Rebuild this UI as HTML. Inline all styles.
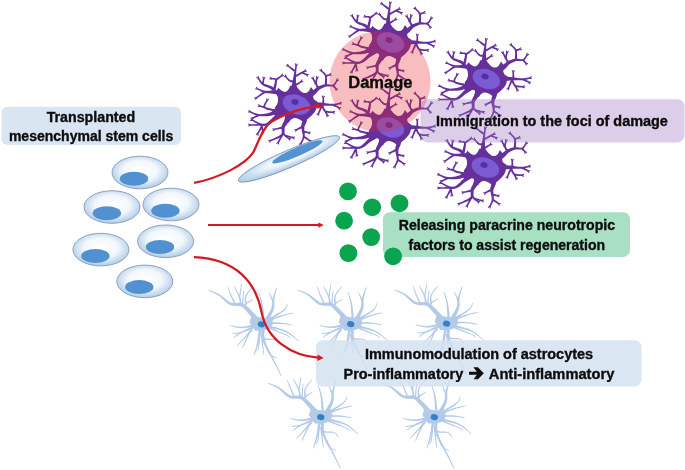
<!DOCTYPE html>
<html><head><meta charset="utf-8"><style>html,body{margin:0;padding:0;background:#fff;width:685px;height:470px;overflow:hidden}svg{display:block}</style></head>
<body><svg width="685" height="470" viewBox="0 0 685 470">
<defs>
<radialGradient id="cg" cx="0.5" cy="0.45" r="0.55"><stop offset="0" stop-color="#ffffff"/><stop offset="0.55" stop-color="#f3f8fc"/><stop offset="1" stop-color="#afcbe7"/></radialGradient>
<radialGradient id="eg" cx="0.55" cy="0.4" r="0.6"><stop offset="0" stop-color="#ffffff"/><stop offset="0.45" stop-color="#eef5fb"/><stop offset="1" stop-color="#a9c8e6"/></radialGradient>
<g id="astro"><g fill="#b3cae8"><path d="M-12,-2 L-9.6,-9 Q-4,-7.2 4.3,-6 L9.6,-8 Q11.5,-4 11.5,-1 Q10.5,2.5 8,4.5 Q4,6.5 0.9,6.5 L-6,6.5 Q-8.5,4 -9,2 Q-11,0 -12,-2Z"/><path d="M-2.14,-5.67 L-3.51,-7.09 L-5.47,-9.14 L-7.78,-11.53 L-10.16,-13.98 L-12.38,-16.19 L-14.18,-17.86 L-15.44,-18.96 L-16.40,-19.75 L-17.29,-20.34 L-18.23,-20.77 L-19.20,-21.05 L-20.48,-21.35 L-22.15,-21.53 L-23.95,-21.48 L-25.77,-21.37 L-27.57,-21.32 L-29.28,-21.46 L-30.87,-21.89 L-32.49,-22.74 L-34.23,-23.99 L-36.04,-25.50 L-37.89,-27.09 L-39.76,-28.61 L-41.66,-29.89 L-43.65,-30.93 L-45.76,-31.85 L-47.84,-32.67 L-49.77,-33.37 L-51.38,-33.94 L-52.54,-34.37 L-52.86,-33.63 L-51.72,-33.10 L-50.14,-32.42 L-48.29,-31.60 L-46.31,-30.65 L-44.34,-29.61 L-42.54,-28.51 L-40.88,-27.21 L-39.19,-25.64 L-37.46,-23.93 L-35.70,-22.23 L-33.87,-20.71 L-31.93,-19.51 L-29.85,-18.79 L-27.76,-18.46 L-25.75,-18.37 L-23.92,-18.35 L-22.37,-18.29 L-21.12,-18.05 L-20.16,-17.75 L-19.51,-17.51 L-19.12,-17.30 L-18.66,-16.93 L-17.92,-16.23 L-16.82,-15.14 L-15.24,-13.43 L-13.24,-11.14 L-11.06,-8.57 L-8.95,-6.03 L-7.13,-3.85 L-5.86,-2.33Z"/><path d="M-19.90,-19.78 L-19.99,-20.53 L-20.08,-21.56 L-20.21,-22.82 L-20.41,-24.24 L-20.75,-25.77 L-21.25,-27.33 L-22.02,-29.07 L-23.03,-31.05 L-24.16,-33.10 L-25.27,-35.05 L-26.22,-36.70 L-26.88,-37.87 L-27.52,-37.53 L-26.93,-36.32 L-26.07,-34.62 L-25.07,-32.62 L-24.07,-30.53 L-23.19,-28.54 L-22.55,-26.87 L-22.17,-25.42 L-21.95,-24.00 L-21.83,-22.66 L-21.78,-21.44 L-21.75,-20.40 L-21.70,-19.62Z"/><path d="M-21.19,-26.98 L-20.88,-29.21 L-20.57,-31.44 L-20.27,-33.66 L-19.96,-35.89 L-19.65,-38.11 L-19.34,-40.34 L-20.06,-40.46 L-20.48,-38.25 L-20.91,-36.05 L-21.33,-33.84 L-21.76,-31.63 L-22.18,-29.42 L-22.61,-27.22Z"/><path d="M-18.28,-19.93 L-18.11,-22.18 L-17.94,-24.44 L-17.76,-26.69 L-17.59,-28.95 L-17.42,-31.21 L-17.24,-33.46 L-17.96,-33.54 L-18.25,-31.29 L-18.54,-29.05 L-18.84,-26.81 L-19.13,-24.56 L-19.42,-22.32 L-19.72,-20.07Z"/><path d="M-14.60,-19.07 L-14.71,-20.09 L-14.91,-21.48 L-15.11,-23.09 L-15.23,-24.80 L-15.18,-26.48 L-14.88,-27.98 L-14.20,-29.52 L-13.15,-31.23 L-11.91,-32.97 L-10.66,-34.59 L-9.57,-35.97 L-8.82,-36.98 L-9.38,-37.42 L-10.17,-36.47 L-11.34,-35.15 L-12.69,-33.58 L-14.06,-31.87 L-15.26,-30.11 L-16.12,-28.42 L-16.56,-26.67 L-16.72,-24.81 L-16.69,-22.98 L-16.57,-21.30 L-16.44,-19.92 L-16.40,-18.93Z"/><path d="M-15.13,-19.93 L-14.01,-20.73 L-12.89,-21.52 L-11.77,-22.32 L-10.65,-23.11 L-9.52,-23.90 L-8.40,-24.70 L-8.80,-25.30 L-9.98,-24.60 L-11.15,-23.89 L-12.33,-23.18 L-13.51,-22.48 L-14.69,-21.77 L-15.87,-21.07Z"/><path d="M-25.37,-20.05 L-25.82,-20.93 L-26.44,-22.15 L-27.18,-23.58 L-27.97,-25.15 L-28.75,-26.73 L-29.45,-28.23 L-30.15,-29.80 L-30.88,-31.53 L-31.61,-33.28 L-32.28,-34.93 L-32.85,-36.33 L-33.26,-37.33 L-33.94,-37.07 L-33.57,-36.05 L-33.07,-34.63 L-32.48,-32.95 L-31.83,-31.16 L-31.17,-29.38 L-30.55,-27.77 L-29.90,-26.21 L-29.19,-24.57 L-28.47,-22.97 L-27.80,-21.49 L-27.24,-20.25 L-26.83,-19.35Z"/><path d="M6.73,-3.00 L7.39,-4.26 L8.35,-6.04 L9.48,-8.17 L10.64,-10.48 L11.67,-12.79 L12.44,-14.96 L12.85,-16.97 L12.99,-18.89 L12.99,-20.71 L12.94,-22.45 L12.95,-24.14 L13.10,-25.83 L13.45,-27.69 L13.93,-29.75 L14.47,-31.82 L15.00,-33.75 L15.47,-35.39 L15.79,-36.58 L15.01,-36.82 L14.59,-35.68 L13.98,-34.09 L13.27,-32.20 L12.53,-30.16 L11.85,-28.11 L11.30,-26.17 L10.96,-24.33 L10.78,-22.53 L10.67,-20.78 L10.52,-19.09 L10.25,-17.45 L9.76,-15.84 L8.93,-14.04 L7.78,-11.99 L6.48,-9.90 L5.19,-7.93 L4.06,-6.23 L3.27,-5.00Z"/><path d="M12.44,-23.23 L11.74,-24.62 L11.04,-26.00 L10.33,-27.39 L9.63,-28.77 L8.93,-30.16 L8.23,-31.55 L7.57,-31.25 L8.14,-29.81 L8.70,-28.36 L9.27,-26.91 L9.83,-25.46 L10.40,-24.02 L10.96,-22.57Z"/><path d="M3.17,-6.10 L2.97,-7.73 L2.72,-10.03 L2.41,-12.73 L2.05,-15.61 L1.65,-18.39 L1.21,-20.83 L0.66,-23.05 L-0.00,-25.26 L-0.71,-27.37 L-1.38,-29.26 L-1.95,-30.84 L-2.36,-32.01 L-3.04,-31.79 L-2.71,-30.60 L-2.23,-28.99 L-1.68,-27.07 L-1.12,-24.95 L-0.60,-22.75 L-0.21,-20.57 L0.08,-18.18 L0.31,-15.42 L0.49,-12.57 L0.63,-9.86 L0.74,-7.55 L0.83,-5.90Z"/><path d="M8.56,-4.07 L10.26,-5.17 L12.74,-6.71 L15.63,-8.53 L18.57,-10.45 L21.20,-12.28 L23.18,-13.87 L24.45,-15.29 L25.27,-16.67 L25.74,-17.94 L26.00,-19.05 L26.15,-19.94 L26.34,-20.59 L25.66,-20.81 L25.42,-20.13 L25.20,-19.24 L24.91,-18.22 L24.42,-17.10 L23.63,-15.93 L22.42,-14.73 L20.46,-13.34 L17.78,-11.69 L14.77,-9.97 L11.79,-8.33 L9.23,-6.92 L7.44,-5.93Z"/><path d="M8.36,-3.08 L9.66,-3.62 L11.47,-4.39 L13.60,-5.29 L15.88,-6.24 L18.14,-7.13 L20.19,-7.87 L22.21,-8.50 L24.36,-9.10 L26.51,-9.65 L28.49,-10.14 L30.16,-10.54 L31.38,-10.85 L31.22,-11.55 L30.00,-11.31 L28.30,-10.99 L26.29,-10.61 L24.11,-10.16 L21.90,-9.67 L19.81,-9.13 L17.67,-8.48 L15.33,-7.70 L12.99,-6.87 L10.81,-6.07 L8.96,-5.40 L7.64,-4.92Z"/><path d="M8.01,-0.01 L9.34,-0.07 L11.19,-0.16 L13.37,-0.26 L15.68,-0.34 L17.94,-0.38 L19.95,-0.35 L21.86,-0.21 L23.86,0.01 L25.82,0.28 L27.61,0.55 L29.13,0.79 L30.24,0.95 L30.36,0.25 L29.27,0.02 L27.77,-0.30 L25.98,-0.68 L24.02,-1.06 L22.01,-1.40 L20.05,-1.65 L17.98,-1.80 L15.68,-1.89 L13.35,-1.94 L11.16,-1.96 L9.31,-1.97 L7.99,-1.99Z"/><path d="M-6.21,-0.15 L-7.79,0.19 L-10.01,0.69 L-12.59,1.27 L-15.32,1.83 L-17.95,2.26 L-20.21,2.49 L-22.26,2.46 L-24.36,2.23 L-26.38,1.89 L-28.22,1.51 L-29.77,1.17 L-30.92,0.95 L-31.08,1.65 L-29.96,1.94 L-28.43,2.38 L-26.60,2.88 L-24.55,3.37 L-22.38,3.74 L-20.19,3.91 L-17.79,3.83 L-15.06,3.55 L-12.26,3.16 L-9.61,2.75 L-7.38,2.39 L-5.79,2.15Z"/><path d="M-8.45,1.92 L-9.81,2.55 L-11.73,3.42 L-13.99,4.46 L-16.36,5.57 L-18.62,6.67 L-20.52,7.69 L-22.14,8.69 L-23.66,9.74 L-25.05,10.78 L-26.26,11.73 L-27.26,12.53 L-28.01,13.11 L-27.59,13.69 L-26.79,13.17 L-25.74,12.44 L-24.48,11.59 L-23.05,10.67 L-21.50,9.75 L-19.88,8.91 L-17.97,8.06 L-15.68,7.14 L-13.26,6.21 L-10.94,5.34 L-8.95,4.61 L-7.55,4.08Z"/><path d="M-20.30,7.63 L-21.77,7.90 L-23.25,8.17 L-24.72,8.44 L-26.20,8.71 L-27.68,8.98 L-29.15,9.24 L-29.05,9.96 L-27.56,9.79 L-26.07,9.63 L-24.58,9.46 L-23.08,9.30 L-21.59,9.13 L-20.10,8.97Z"/><path d="M-9.72,4.33 L-12.15,7.08 L-14.57,9.83 L-16.99,12.59 L-19.42,15.34 L-21.84,18.10 L-24.26,20.85 L-23.74,21.35 L-21.16,18.73 L-18.58,16.12 L-16.01,13.51 L-13.43,10.90 L-10.85,8.29 L-8.28,5.67Z"/><path d="M-11.82,5.63 L-13.06,8.60 L-14.29,11.57 L-15.52,14.54 L-16.76,17.51 L-17.99,20.48 L-19.23,23.45 L-18.57,23.75 L-17.17,20.85 L-15.77,17.95 L-14.38,15.06 L-12.98,12.16 L-11.58,9.27 L-10.18,6.37Z"/><path d="M-2.33,3.78 L-2.54,5.39 L-2.83,7.63 L-3.17,10.26 L-3.55,13.07 L-3.97,15.83 L-4.41,18.31 L-4.93,20.69 L-5.54,23.18 L-6.20,25.64 L-6.83,27.90 L-7.36,29.80 L-7.74,31.19 L-7.06,31.41 L-6.58,30.05 L-5.91,28.19 L-5.12,25.97 L-4.29,23.55 L-3.49,21.07 L-2.79,18.69 L-2.16,16.19 L-1.55,13.44 L-0.96,10.64 L-0.43,8.02 L0.01,5.81 L0.33,4.22Z"/><path d="M5.72,3.14 L7.84,3.61 L10.82,4.21 L14.29,4.94 L17.93,5.80 L21.38,6.77 L24.29,7.85 L26.82,9.21 L29.30,10.89 L31.63,12.72 L33.71,14.48 L35.46,16.00 L36.77,17.07 L37.23,16.53 L35.99,15.41 L34.32,13.81 L32.30,11.93 L30.01,9.97 L27.52,8.10 L24.91,6.55 L21.91,5.27 L18.41,4.10 L14.76,3.06 L11.29,2.16 L8.35,1.42 L6.28,0.86Z"/><path d="M7.70,4.75 L9.85,5.56 L12.97,6.72 L16.59,8.07 L20.25,9.45 L23.48,10.71 L25.81,11.69 L27.16,12.39 L27.90,12.93 L28.20,13.29 L28.28,13.55 L28.32,13.87 L28.48,14.17 L29.12,13.83 L29.02,13.65 L29.00,13.39 L28.85,12.92 L28.43,12.35 L27.59,11.70 L26.19,10.91 L23.86,9.82 L20.67,8.42 L17.06,6.90 L13.49,5.41 L10.42,4.13 L8.30,3.25Z"/><path d="M0.10,6.05 L0.17,6.97 L0.18,8.35 L0.24,10.01 L0.46,11.75 L1.01,13.38 L2.07,14.68 L3.70,15.35 L5.70,15.59 L7.87,15.62 L10.04,15.60 L11.97,15.67 L13.43,15.96 L14.46,16.53 L15.31,17.32 L16.00,18.22 L16.55,19.12 L17.01,19.93 L17.40,20.50 L18.00,20.10 L17.66,19.55 L17.24,18.74 L16.69,17.76 L15.97,16.74 L15.02,15.79 L13.77,15.04 L12.11,14.63 L10.08,14.46 L7.90,14.39 L5.80,14.28 L4.05,14.01 L2.93,13.52 L2.35,12.70 L2.00,11.44 L1.87,9.91 L1.88,8.35 L1.93,6.95 L1.90,5.95Z"/><path d="M-0.16,6.14 L-0.02,7.10 L0.13,8.41 L0.34,10.02 L0.63,11.83 L1.04,13.77 L1.60,15.75 L2.33,17.93 L3.21,20.40 L4.21,23.00 L5.29,25.53 L6.40,27.79 L7.54,29.63 L8.81,30.98 L10.23,31.95 L11.67,32.62 L12.99,33.08 L14.09,33.42 L14.86,33.73 L15.14,33.07 L14.36,32.71 L13.27,32.31 L12.02,31.81 L10.73,31.13 L9.51,30.21 L8.46,28.97 L7.50,27.23 L6.53,24.99 L5.60,22.48 L4.75,19.88 L4.00,17.40 L3.40,15.25 L2.96,13.35 L2.66,11.50 L2.47,9.76 L2.35,8.19 L2.26,6.86 L2.16,5.86Z"/><path d="M0.74,5.96 L0.73,7.03 L0.63,8.50 L0.55,10.33 L0.59,12.43 L0.86,14.73 L1.48,17.12 L2.48,19.62 L3.79,22.29 L5.30,25.08 L6.93,27.96 L8.57,30.86 L10.13,33.74 L11.74,36.84 L13.52,40.24 L15.32,43.69 L17.00,46.90 L18.42,49.62 L19.44,51.58 L20.16,51.22 L19.21,49.23 L17.88,46.46 L16.32,43.19 L14.64,39.68 L12.98,36.22 L11.47,33.06 L10.00,30.11 L8.45,27.13 L6.93,24.22 L5.54,21.42 L4.37,18.81 L3.52,16.48 L3.06,14.35 L2.89,12.31 L2.92,10.39 L3.05,8.67 L3.20,7.18 L3.26,6.04Z"/><path d="M-2.60,7.94 L-2.67,9.80 L-2.76,12.50 L-2.87,15.63 L-3.01,18.79 L-3.21,21.58 L-3.46,23.60 L-3.81,24.76 L-4.23,25.41 L-4.66,25.73 L-5.12,25.88 L-5.59,25.99 L-5.96,26.18 L-5.64,26.82 L-5.37,26.70 L-4.92,26.62 L-4.30,26.44 L-3.62,25.98 L-3.01,25.13 L-2.54,23.80 L-2.15,21.71 L-1.80,18.89 L-1.48,15.72 L-1.21,12.59 L-0.98,9.91 L-0.80,8.06Z"/><path d="M-0.80,10.10 L-0.31,13.54 L0.18,16.98 L0.67,20.42 L1.16,23.86 L1.65,27.30 L2.14,30.74 L2.86,30.66 L2.52,27.20 L2.17,23.74 L1.83,20.28 L1.49,16.82 L1.15,13.36 L0.80,9.90Z"/></g><ellipse cx="0" cy="0" rx="3.7" ry="3" transform="rotate(15)" fill="#3380c8"/></g>
<g id="neuron"><g fill="#66309c"><path d="M-19.44,-9.84 L-16.56,-14.16 Q-8.53,-5.04 -4.78,-16.16 L0.78,-16.84 Q10.64,-1.84 15.95,-15.09 L19.05,-10.91 Q15.95,-2.35 22.26,-0.39 L21.74,4.79 Q21.99,9.97 12.29,17.26 L7.71,19.74 Q-1.85,11.87 -6.01,20.53 L-10.79,18.47 Q-6.95,10.34 -19.32,14.86 L-21.68,11.14 Q-17.83,10.41 -18.66,10.04 L-20.34,5.96 Q-13.91,-1.06 -19.44,-9.84Z"/><path d="M-10.34,-8.50 L-11.00,-8.81 L-11.94,-9.31 L-13.18,-9.97 L-14.65,-10.67 L-16.32,-11.28 L-18.14,-11.69 L-20.09,-11.79 L-22.13,-11.68 L-24.19,-11.47 L-26.21,-11.27 L-28.09,-11.17 L-29.71,-11.24 L-31.21,-11.52 L-32.73,-11.98 L-34.17,-12.53 L-35.47,-13.10 L-36.57,-13.62 L-37.39,-13.98 L-38.01,-12.62 L-37.22,-12.25 L-36.15,-11.70 L-34.84,-11.03 L-33.37,-10.34 L-31.77,-9.68 L-30.09,-9.16 L-28.24,-8.84 L-26.22,-8.65 L-24.16,-8.50 L-22.17,-8.34 L-20.41,-8.08 L-19.06,-7.71 L-17.99,-7.17 L-16.96,-6.47 L-16.01,-5.67 L-15.13,-4.85 L-14.32,-4.07 L-13.66,-3.50Z"/><path d="M-36.76,-13.56 L-38.59,-15.32 L-39.33,-14.64 L-37.71,-12.67Z"/><path d="M-37.28,-13.76 L-39.80,-13.44 L-39.73,-12.44 L-37.19,-12.47Z"/><path d="M-30.50,-11.06 L-31.93,-10.00 L-33.37,-8.94 L-34.81,-7.88 L-36.24,-6.82 L-37.68,-5.76 L-39.11,-4.70 L-38.29,-3.50 L-36.79,-4.48 L-35.29,-5.45 L-33.79,-6.42 L-32.30,-7.39 L-30.80,-8.36 L-29.30,-9.34Z"/><path d="M-38.39,-5.03 L-40.88,-4.48 L-40.72,-3.49 L-38.19,-3.74Z"/><path d="M-38.85,-4.71 L-39.98,-2.43 L-39.11,-1.93 L-37.72,-4.06Z"/><path d="M-18.91,-12.10 L-19.29,-12.44 L-19.79,-12.94 L-20.45,-13.58 L-21.26,-14.29 L-22.23,-15.01 L-23.35,-15.68 L-24.68,-16.25 L-26.18,-16.75 L-27.73,-17.21 L-29.25,-17.69 L-30.61,-18.22 L-31.70,-18.81 L-32.62,-19.57 L-33.50,-20.55 L-34.31,-21.63 L-35.02,-22.69 L-35.62,-23.63 L-36.09,-24.29 L-37.31,-23.51 L-36.91,-22.83 L-36.39,-21.87 L-35.73,-20.71 L-34.94,-19.46 L-34.00,-18.25 L-32.90,-17.19 L-31.57,-16.33 L-30.08,-15.62 L-28.52,-14.99 L-27.01,-14.41 L-25.68,-13.86 L-24.65,-13.32 L-23.85,-12.75 L-23.14,-12.12 L-22.51,-11.48 L-21.97,-10.87 L-21.48,-10.32 L-21.09,-9.90Z"/><path d="M-35.76,-23.62 L-36.40,-26.09 L-37.38,-25.90 L-37.04,-23.37Z"/><path d="M-36.10,-24.07 L-38.42,-25.12 L-38.88,-24.24 L-36.70,-22.92Z"/><path d="M-31.27,-17.81 L-31.15,-18.72 L-31.04,-19.63 L-30.93,-20.54 L-30.81,-21.45 L-30.70,-22.36 L-30.59,-23.27 L-32.01,-23.53 L-32.23,-22.64 L-32.45,-21.75 L-32.67,-20.86 L-32.89,-19.97 L-33.11,-19.08 L-33.33,-18.19Z"/><path d="M-30.87,-22.53 L-29.49,-24.67 L-30.30,-25.26 L-31.92,-23.29Z"/><path d="M-30.76,-23.08 L-31.57,-25.49 L-32.54,-25.23 L-32.02,-22.74Z"/><path d="M-19.28,-12.71 L-19.10,-13.77 L-18.80,-15.33 L-18.45,-17.17 L-18.17,-19.06 L-18.03,-20.79 L-18.19,-22.25 L-18.93,-23.36 L-20.01,-23.90 L-21.10,-24.08 L-22.11,-24.10 L-22.91,-24.08 L-23.42,-24.12 L-23.58,-22.68 L-23.00,-22.59 L-22.17,-22.53 L-21.31,-22.44 L-20.58,-22.26 L-20.15,-22.02 L-20.01,-21.75 L-20.02,-20.88 L-20.27,-19.40 L-20.70,-17.65 L-21.19,-15.90 L-21.64,-14.36 L-21.92,-13.29Z"/><path d="M-22.58,-23.72 L-24.53,-25.35 L-25.22,-24.62 L-23.47,-22.78Z"/><path d="M-23.11,-23.89 L-25.61,-23.39 L-25.47,-22.40 L-22.93,-22.60Z"/><path d="M-18.47,-21.16 L-17.52,-21.94 L-16.57,-22.71 L-15.62,-23.49 L-14.67,-24.27 L-13.72,-25.04 L-12.77,-25.82 L-13.63,-26.98 L-14.65,-26.29 L-15.66,-25.60 L-16.68,-24.91 L-17.70,-24.22 L-18.71,-23.53 L-19.73,-22.84Z"/><path d="M-13.48,-25.46 L-11.01,-26.10 L-11.20,-27.08 L-13.73,-26.74Z"/><path d="M-13.03,-25.80 L-11.98,-28.12 L-12.86,-28.58 L-14.18,-26.40Z"/><path d="M2.00,-10.05 L1.89,-10.78 L1.73,-11.74 L1.55,-12.86 L1.37,-14.12 L1.21,-15.47 L1.09,-16.89 L1.01,-18.46 L0.97,-20.24 L0.96,-22.14 L0.98,-24.07 L1.02,-25.94 L1.09,-27.67 L1.19,-29.36 L1.32,-31.09 L1.48,-32.76 L1.66,-34.28 L1.82,-35.56 L1.94,-36.49 L0.46,-36.71 L0.32,-35.77 L0.11,-34.50 L-0.16,-32.99 L-0.46,-31.33 L-0.78,-29.61 L-1.09,-27.93 L-1.40,-26.20 L-1.75,-24.35 L-2.11,-22.43 L-2.46,-20.54 L-2.80,-18.74 L-3.09,-17.11 L-3.32,-15.59 L-3.52,-14.13 L-3.67,-12.79 L-3.80,-11.61 L-3.91,-10.65 L-4.00,-9.95Z"/><path d="M1.68,-35.75 L2.95,-37.95 L2.11,-38.50 L0.59,-36.46Z"/><path d="M1.75,-36.30 L0.83,-38.68 L-0.12,-38.37 L0.51,-35.91Z"/><path d="M0.99,-24.97 L2.50,-25.84 L4.01,-26.70 L5.52,-27.57 L7.03,-28.43 L8.53,-29.30 L10.04,-30.16 L9.36,-31.44 L7.80,-30.67 L6.24,-29.90 L4.68,-29.13 L3.12,-28.36 L1.57,-27.60 L0.01,-26.83Z"/><path d="M9.29,-29.92 L11.82,-30.17 L11.77,-31.17 L9.23,-31.21Z"/><path d="M9.78,-30.18 L11.17,-32.31 L10.36,-32.91 L8.74,-30.95Z"/><path d="M6.55,-28.55 L7.36,-28.23 L8.17,-27.91 L8.97,-27.60 L9.78,-27.28 L10.59,-26.96 L11.39,-26.64 L12.01,-27.96 L11.25,-28.37 L10.49,-28.79 L9.73,-29.20 L8.97,-29.62 L8.21,-30.04 L7.45,-30.45Z"/><path d="M10.74,-27.10 L12.47,-25.23 L13.24,-25.86 L11.75,-27.92Z"/><path d="M11.25,-26.86 L13.79,-27.04 L13.78,-28.04 L11.24,-28.16Z"/><path d="M1.58,-16.12 L2.43,-16.75 L3.29,-17.38 L4.14,-18.01 L4.99,-18.64 L5.85,-19.27 L6.70,-19.90 L5.90,-21.10 L4.99,-20.57 L4.07,-20.03 L3.16,-19.49 L2.25,-18.95 L1.33,-18.41 L0.42,-17.88Z"/><path d="M5.97,-19.58 L8.47,-20.08 L8.33,-21.07 L5.79,-20.87Z"/><path d="M6.44,-19.89 L7.62,-22.15 L6.76,-22.66 L5.33,-20.56Z"/><path d="M-0.61,-22.04 L-1.13,-21.97 L-1.80,-21.84 L-2.52,-21.71 L-3.26,-21.64 L-3.93,-21.67 L-4.49,-21.82 L-5.13,-22.22 L-5.93,-22.91 L-6.77,-23.75 L-7.57,-24.61 L-8.26,-25.36 L-8.76,-25.89 L-9.84,-24.91 L-9.38,-24.38 L-8.75,-23.59 L-7.98,-22.65 L-7.13,-21.70 L-6.24,-20.84 L-5.31,-20.18 L-4.30,-19.82 L-3.28,-19.71 L-2.33,-19.74 L-1.49,-19.83 L-0.83,-19.92 L-0.39,-19.96Z"/><path d="M-8.33,-25.26 L-9.32,-27.61 L-10.26,-27.28 L-9.56,-24.83Z"/><path d="M-8.73,-25.66 L-11.18,-26.36 L-11.51,-25.42 L-9.16,-24.43Z"/><path d="M0.34,-31.83 L-0.79,-32.64 L-1.92,-33.45 L-3.06,-34.25 L-4.19,-35.06 L-5.32,-35.87 L-6.46,-36.67 L-7.34,-35.53 L-6.28,-34.63 L-5.21,-33.74 L-4.14,-32.85 L-3.08,-31.95 L-2.01,-31.06 L-0.94,-30.17Z"/><path d="M-5.92,-36.09 L-7.20,-38.29 L-8.09,-37.84 L-7.09,-35.50Z"/><path d="M-6.37,-36.43 L-8.88,-36.82 L-9.09,-35.84 L-6.64,-35.16Z"/><path d="M13.59,-2.46 L14.26,-2.98 L15.21,-3.71 L16.35,-4.58 L17.57,-5.53 L18.77,-6.49 L19.87,-7.42 L20.82,-8.35 L21.62,-9.27 L22.30,-10.11 L22.92,-10.87 L23.56,-11.54 L24.30,-12.16 L25.25,-12.80 L26.33,-13.44 L27.49,-14.06 L28.69,-14.61 L29.89,-15.08 L31.00,-15.43 L32.08,-15.60 L33.27,-15.59 L34.56,-15.49 L35.87,-15.40 L37.18,-15.46 L38.45,-15.81 L39.54,-16.55 L40.42,-17.54 L41.16,-18.62 L41.77,-19.66 L42.26,-20.52 L42.63,-21.09 L41.37,-21.91 L40.97,-21.30 L40.46,-20.44 L39.86,-19.48 L39.17,-18.56 L38.45,-17.82 L37.75,-17.39 L36.98,-17.25 L35.97,-17.29 L34.78,-17.47 L33.46,-17.69 L32.04,-17.83 L30.60,-17.77 L29.20,-17.50 L27.80,-17.13 L26.41,-16.69 L25.04,-16.19 L23.73,-15.64 L22.50,-15.04 L21.36,-14.36 L20.36,-13.59 L19.49,-12.84 L18.70,-12.14 L17.94,-11.52 L17.13,-10.98 L16.10,-10.39 L14.85,-9.73 L13.54,-9.07 L12.28,-8.45 L11.19,-7.93 L10.41,-7.54Z"/><path d="M41.97,-20.52 L44.19,-21.77 L43.76,-22.67 L41.40,-21.69Z"/><path d="M42.32,-20.96 L42.74,-23.47 L41.77,-23.70 L41.06,-21.25Z"/><path d="M37.29,-15.93 L37.82,-15.38 L38.34,-14.83 L38.87,-14.28 L39.39,-13.73 L39.92,-13.19 L40.44,-12.64 L41.56,-13.56 L41.12,-14.18 L40.68,-14.80 L40.23,-15.42 L39.79,-16.03 L39.35,-16.65 L38.91,-17.27Z"/><path d="M40.05,-13.33 L40.81,-10.90 L41.78,-11.14 L41.31,-13.64Z"/><path d="M40.41,-12.89 L42.78,-11.97 L43.20,-12.88 L40.95,-14.08Z"/><path d="M24.41,-14.15 L23.45,-15.75 L22.48,-17.35 L21.52,-18.95 L20.56,-20.55 L19.60,-22.15 L18.63,-23.75 L17.37,-23.05 L18.20,-21.38 L19.04,-19.72 L19.88,-18.05 L20.72,-16.38 L21.55,-14.71 L22.39,-13.05Z"/><path d="M18.89,-23.00 L18.60,-25.53 L17.60,-25.47 L17.59,-22.93Z"/><path d="M18.62,-23.49 L16.47,-24.85 L15.88,-24.03 L17.86,-22.43Z"/><path d="M21.52,-17.74 L21.72,-18.74 L21.91,-19.73 L22.11,-20.73 L22.31,-21.73 L22.51,-22.72 L22.70,-23.72 L21.30,-24.08 L20.99,-23.11 L20.69,-22.14 L20.39,-21.17 L20.09,-20.20 L19.78,-19.23 L19.48,-18.26Z"/><path d="M22.38,-23.00 L23.89,-25.04 L23.12,-25.69 L21.38,-23.83Z"/><path d="M22.51,-23.54 L21.87,-26.00 L20.89,-25.81 L21.24,-23.29Z"/><path d="M31.95,-16.54 L31.97,-17.59 L32.04,-19.08 L32.11,-20.87 L32.12,-22.75 L32.00,-24.57 L31.67,-26.16 L31.03,-27.52 L30.15,-28.71 L29.18,-29.74 L28.23,-30.61 L27.45,-31.29 L26.92,-31.81 L25.88,-30.79 L26.41,-30.22 L27.17,-29.48 L28.02,-28.62 L28.84,-27.67 L29.51,-26.66 L29.93,-25.64 L30.11,-24.37 L30.14,-22.74 L30.04,-20.96 L29.88,-19.23 L29.73,-17.73 L29.65,-16.66Z"/><path d="M27.35,-31.06 L26.61,-33.50 L25.63,-33.26 L26.08,-30.76Z"/><path d="M26.99,-31.50 L24.63,-32.45 L24.21,-31.54 L26.44,-30.32Z"/><path d="M31.15,-24.91 L31.79,-25.20 L32.42,-25.48 L33.05,-25.76 L33.68,-26.05 L34.31,-26.33 L34.94,-26.62 L34.46,-27.98 L33.79,-27.80 L33.12,-27.62 L32.45,-27.44 L31.78,-27.25 L31.11,-27.07 L30.45,-26.89Z"/><path d="M34.16,-26.48 L36.70,-26.37 L36.81,-27.37 L34.30,-27.78Z"/><path d="M34.69,-26.67 L36.37,-28.59 L35.66,-29.29 L33.77,-27.59Z"/><path d="M13.85,5.00 L14.55,4.95 L15.52,4.88 L16.69,4.81 L17.96,4.73 L19.24,4.65 L20.45,4.56 L21.57,4.46 L22.62,4.35 L23.66,4.24 L24.74,4.12 L25.91,4.01 L27.24,3.92 L28.83,3.87 L30.65,3.85 L32.61,3.86 L34.59,3.86 L36.47,3.83 L38.15,3.73 L39.67,3.52 L41.10,3.23 L42.41,2.90 L43.55,2.57 L44.49,2.30 L45.18,2.13 L44.82,0.67 L44.10,0.85 L43.16,1.09 L42.04,1.36 L40.78,1.61 L39.44,1.80 L38.05,1.87 L36.49,1.82 L34.69,1.65 L32.77,1.42 L30.84,1.15 L29.00,0.89 L27.36,0.68 L25.95,0.53 L24.72,0.43 L23.60,0.34 L22.57,0.25 L21.57,0.16 L20.55,0.04 L19.41,-0.12 L18.19,-0.31 L16.96,-0.51 L15.82,-0.71 L14.86,-0.87 L14.15,-1.00Z"/><path d="M44.35,2.13 L46.85,2.60 L47.09,1.63 L44.67,0.87Z"/><path d="M44.90,2.02 L46.84,0.37 L46.23,-0.43 L44.12,0.98Z"/><path d="M37.62,3.74 L38.63,4.19 L39.64,4.64 L40.65,5.09 L41.66,5.54 L42.66,5.99 L43.67,6.45 L44.33,5.15 L43.37,4.61 L42.41,4.06 L41.45,3.51 L40.49,2.96 L39.53,2.41 L38.58,1.86Z"/><path d="M43.04,5.97 L44.70,7.89 L45.50,7.29 L44.07,5.18Z"/><path d="M43.54,6.22 L46.08,6.13 L46.11,5.13 L43.57,4.92Z"/><path d="M29.35,2.00 L29.30,0.92 L29.24,-0.17 L29.19,-1.25 L29.13,-2.33 L29.08,-3.42 L29.03,-4.50 L27.57,-4.50 L27.52,-3.42 L27.47,-2.33 L27.41,-1.25 L27.36,-0.17 L27.30,0.92 L27.25,2.00Z"/><path d="M28.89,-3.72 L29.85,-6.07 L28.95,-6.51 L27.71,-4.28Z"/><path d="M28.89,-4.28 L27.65,-6.51 L26.75,-6.07 L27.71,-3.72Z"/><path d="M26.04,3.07 L25.49,4.45 L24.94,5.82 L24.39,7.19 L23.84,8.56 L23.29,9.93 L22.74,11.31 L24.06,11.89 L24.71,10.57 L25.36,9.24 L26.01,7.91 L26.66,6.58 L27.31,5.25 L27.96,3.93Z"/><path d="M23.18,10.65 L21.35,12.41 L21.99,13.17 L24.02,11.64Z"/><path d="M22.95,11.16 L23.18,13.70 L24.18,13.67 L24.25,11.12Z"/><path d="M26.03,3.40 L26.34,4.10 L26.74,5.15 L27.26,6.42 L27.91,7.74 L28.74,8.98 L29.81,9.95 L31.18,10.51 L32.74,10.79 L34.36,10.89 L35.89,10.91 L37.18,10.90 L38.06,10.92 L38.14,9.48 L37.22,9.41 L35.93,9.36 L34.45,9.28 L32.97,9.12 L31.68,8.85 L30.79,8.45 L30.17,7.81 L29.58,6.83 L29.06,5.65 L28.63,4.45 L28.27,3.37 L27.97,2.60Z"/><path d="M37.25,10.68 L39.46,11.94 L40.01,11.10 L37.96,9.59Z"/><path d="M37.81,10.75 L40.17,9.81 L39.86,8.86 L37.40,9.52Z"/><path d="M29.36,9.66 L29.72,10.29 L30.09,10.91 L30.45,11.54 L30.82,12.16 L31.18,12.79 L31.55,13.42 L32.85,12.78 L32.58,12.11 L32.32,11.44 L32.05,10.76 L31.78,10.09 L31.51,9.41 L31.24,8.74Z"/><path d="M31.33,12.65 L31.50,15.19 L32.50,15.19 L32.63,12.65Z"/><path d="M31.58,13.16 L33.66,14.62 L34.28,13.84 L32.38,12.14Z"/><path d="M5.17,13.00 L5.50,13.67 L5.96,14.53 L6.45,15.45 L6.90,16.38 L7.24,17.25 L7.42,17.95 L7.45,18.60 L7.29,19.45 L6.99,20.51 L6.63,21.77 L6.33,23.21 L6.21,24.81 L6.36,26.50 L6.70,28.22 L7.10,29.94 L7.46,31.61 L7.71,33.15 L7.75,34.49 L7.54,35.75 L7.13,37.04 L6.59,38.30 L6.01,39.45 L5.49,40.43 L5.13,41.16 L6.47,41.84 L6.83,41.13 L7.37,40.18 L8.02,39.01 L8.68,37.68 L9.26,36.24 L9.65,34.71 L9.77,33.07 L9.69,31.33 L9.53,29.56 L9.37,27.84 L9.30,26.28 L9.39,24.99 L9.67,23.95 L10.09,22.95 L10.61,21.92 L11.17,20.81 L11.67,19.53 L11.98,18.05 L11.97,16.50 L11.78,15.04 L11.49,13.69 L11.19,12.52 L10.95,11.61 L10.83,11.00Z"/><path d="M5.56,40.55 L3.76,42.35 L4.43,43.10 L6.43,41.53Z"/><path d="M5.34,41.07 L5.62,43.60 L6.62,43.55 L6.64,41.01Z"/><path d="M6.52,23.97 L5.61,24.50 L4.70,25.03 L3.79,25.56 L2.88,26.09 L1.98,26.62 L1.07,27.16 L1.73,28.44 L2.69,28.01 L3.65,27.57 L4.61,27.14 L5.57,26.70 L6.52,26.27 L7.48,25.83Z"/><path d="M1.82,26.92 L-0.71,27.15 L-0.68,28.15 L1.86,28.22Z"/><path d="M1.32,27.18 L-0.08,29.30 L0.71,29.90 L2.36,27.96Z"/><path d="M8.30,30.73 L9.16,30.84 L10.02,30.96 L10.88,31.07 L11.74,31.18 L12.60,31.30 L13.46,31.41 L13.74,29.99 L12.90,29.77 L12.06,29.55 L11.22,29.33 L10.38,29.11 L9.54,28.89 L8.70,28.67Z"/><path d="M12.72,31.12 L14.85,32.52 L15.44,31.72 L13.50,30.08Z"/><path d="M13.27,31.23 L15.69,30.45 L15.44,29.48 L12.95,29.97Z"/><path d="M8.11,35.47 L9.12,36.09 L10.14,36.71 L11.15,37.33 L12.17,37.96 L13.18,38.58 L14.19,39.20 L15.01,38.00 L14.05,37.29 L13.10,36.58 L12.15,35.87 L11.20,35.15 L10.24,34.44 L9.29,33.73Z"/><path d="M13.62,38.65 L15.03,40.77 L15.90,40.26 L14.75,37.99Z"/><path d="M14.09,38.96 L16.62,39.19 L16.77,38.20 L14.28,37.68Z"/><path d="M-8.88,11.18 L-9.01,11.87 L-9.15,12.78 L-9.32,13.82 L-9.52,14.92 L-9.77,16.01 L-10.05,17.01 L-10.42,17.97 L-10.96,19.05 L-11.60,20.25 L-12.28,21.53 L-12.91,22.91 L-13.42,24.43 L-13.60,26.08 L-13.45,27.61 L-13.22,28.95 L-13.10,30.09 L-13.20,31.03 L-13.65,31.90 L-14.85,32.97 L-16.78,34.17 L-19.07,35.34 L-21.38,36.40 L-23.40,37.28 L-24.80,37.91 L-24.20,39.29 L-22.81,38.68 L-20.76,37.88 L-18.36,36.93 L-15.90,35.88 L-13.68,34.76 L-11.95,33.50 L-10.89,31.97 L-10.46,30.33 L-10.41,28.77 L-10.45,27.39 L-10.42,26.26 L-10.18,25.37 L-9.68,24.47 L-9.01,23.47 L-8.21,22.43 L-7.36,21.35 L-6.52,20.21 L-5.75,18.99 L-5.12,17.74 L-4.57,16.50 L-4.09,15.32 L-3.68,14.26 L-3.36,13.42 L-3.12,12.82Z"/><path d="M-24.07,37.73 L-26.60,37.93 L-26.58,38.93 L-24.04,39.02Z"/><path d="M-24.57,37.98 L-26.00,40.08 L-25.21,40.69 L-23.54,38.77Z"/><path d="M-13.74,32.23 L-14.34,33.55 L-14.94,34.88 L-15.54,36.20 L-16.15,37.53 L-16.75,38.85 L-17.35,40.18 L-16.05,40.82 L-15.35,39.55 L-14.65,38.27 L-13.96,37.00 L-13.26,35.72 L-12.56,34.45 L-11.86,33.17Z"/><path d="M-16.88,39.54 L-18.79,41.22 L-18.18,42.01 L-16.08,40.57Z"/><path d="M-17.13,40.04 L-17.02,42.58 L-16.02,42.60 L-15.83,40.06Z"/><path d="M-13.37,30.59 L-13.08,30.98 L-12.69,31.54 L-12.20,32.22 L-11.65,32.95 L-11.06,33.67 L-10.43,34.33 L-9.73,34.93 L-8.94,35.50 L-8.14,36.04 L-7.39,36.51 L-6.76,36.91 L-6.32,37.19 L-5.48,36.01 L-5.92,35.68 L-6.52,35.24 L-7.22,34.73 L-7.95,34.17 L-8.62,33.60 L-9.17,33.07 L-9.64,32.50 L-10.12,31.83 L-10.58,31.12 L-11.00,30.43 L-11.36,29.84 L-11.63,29.41Z"/><path d="M-6.88,36.60 L-5.56,38.78 L-4.68,38.32 L-5.73,36.00Z"/><path d="M-6.43,36.94 L-3.90,37.28 L-3.71,36.30 L-6.18,35.66Z"/><path d="M-10.05,34.72 L-8.74,34.98 L-7.42,35.25 L-6.11,35.51 L-4.80,35.78 L-3.48,36.04 L-2.17,36.30 L-1.83,34.90 L-3.12,34.53 L-4.40,34.16 L-5.69,33.79 L-6.98,33.42 L-8.26,33.05 L-9.55,32.68Z"/><path d="M-2.90,35.98 L-0.84,37.48 L-0.20,36.70 L-2.07,34.98Z"/><path d="M-2.35,36.12 L0.10,35.45 L-0.10,34.47 L-2.62,34.85Z"/><path d="M-12.23,24.47 L-13.65,24.84 L-15.07,25.21 L-16.49,25.58 L-17.91,25.95 L-19.33,26.32 L-20.76,26.69 L-20.44,28.11 L-19.00,27.84 L-17.55,27.58 L-16.11,27.32 L-14.66,27.05 L-13.22,26.79 L-11.77,26.53Z"/><path d="M-19.96,26.66 L-22.47,26.23 L-22.70,27.20 L-20.26,27.93Z"/><path d="M-20.51,26.78 L-22.42,28.46 L-21.80,29.25 L-19.71,27.80Z"/><path d="M-13.49,2.40 L-14.05,2.80 L-14.81,3.35 L-15.72,4.00 L-16.72,4.71 L-17.75,5.44 L-18.81,6.18 L-19.87,6.98 L-20.85,7.81 L-21.78,8.60 L-22.72,9.32 L-23.74,9.94 L-24.95,10.48 L-26.50,10.96 L-28.35,11.40 L-30.35,11.77 L-32.38,12.03 L-34.33,12.15 L-36.07,12.12 L-37.70,11.86 L-39.37,11.37 L-41.00,10.73 L-42.49,10.05 L-43.75,9.44 L-44.69,9.02 L-45.31,10.38 L-44.40,10.80 L-43.17,11.44 L-41.66,12.20 L-39.98,12.97 L-38.17,13.63 L-36.33,14.08 L-34.39,14.29 L-32.29,14.37 L-30.11,14.34 L-27.95,14.22 L-25.91,14.01 L-24.05,13.72 L-22.37,13.27 L-20.87,12.66 L-19.55,11.98 L-18.40,11.30 L-17.37,10.71 L-16.39,10.22 L-15.30,9.74 L-14.14,9.21 L-13.02,8.71 L-12.00,8.26 L-11.14,7.88 L-10.51,7.60Z"/><path d="M-44.06,9.43 L-45.91,7.69 L-46.64,8.37 L-45.01,10.33Z"/><path d="M-44.58,9.23 L-47.10,9.58 L-47.03,10.58 L-44.48,10.53Z"/><path d="M-36.67,12.16 L-37.61,12.69 L-38.55,13.22 L-39.50,13.76 L-40.44,14.29 L-41.38,14.82 L-42.32,15.35 L-41.68,16.65 L-40.68,16.21 L-39.69,15.78 L-38.70,15.34 L-37.71,14.91 L-36.72,14.47 L-35.73,14.04Z"/><path d="M-41.56,15.13 L-44.10,15.32 L-44.08,16.32 L-41.54,16.43Z"/><path d="M-42.07,15.38 L-43.51,17.48 L-42.72,18.09 L-41.04,16.18Z"/><path d="M-19.73,7.38 L-21.04,7.10 L-22.95,6.76 L-25.12,6.34 L-27.21,5.83 L-28.87,5.25 L-29.69,4.75 L-29.83,4.27 L-29.63,3.29 L-29.08,2.02 L-28.36,0.73 L-27.68,-0.43 L-27.26,-1.26 L-28.54,-1.94 L-28.96,-1.18 L-29.69,-0.07 L-30.52,1.28 L-31.23,2.74 L-31.58,4.30 L-31.11,5.85 L-29.71,6.92 L-27.80,7.69 L-25.60,8.33 L-23.40,8.86 L-21.52,9.29 L-20.27,9.62Z"/><path d="M-27.61,-0.67 L-25.91,-2.55 L-26.61,-3.27 L-28.53,-1.59Z"/><path d="M-27.42,-1.19 L-27.82,-3.71 L-28.82,-3.61 L-28.72,-1.07Z"/><path d="M-30.13,4.29 L-30.96,4.12 L-31.79,3.96 L-32.62,3.79 L-33.45,3.63 L-34.28,3.46 L-35.11,3.30 L-35.49,4.70 L-34.68,4.97 L-33.88,5.24 L-33.08,5.51 L-32.27,5.78 L-31.47,6.05 L-30.67,6.31Z"/><path d="M-34.39,3.63 L-36.42,2.10 L-37.07,2.86 L-35.24,4.62Z"/><path d="M-34.94,3.49 L-37.41,4.11 L-37.22,5.09 L-34.70,4.77Z"/><path d="M-13.46,7.97 L-14.13,8.54 L-15.02,9.29 L-16.10,10.20 L-17.32,11.22 L-18.66,12.33 L-20.12,13.52 L-21.73,14.99 L-23.41,16.72 L-25.15,18.48 L-26.93,20.04 L-28.67,21.21 L-30.32,21.82 L-32.20,21.78 L-34.50,21.17 L-36.94,20.18 L-39.25,19.05 L-41.24,18.01 L-42.67,17.32 L-43.33,18.68 L-41.94,19.36 L-39.99,20.44 L-37.66,21.70 L-35.14,22.89 L-32.57,23.75 L-30.08,23.98 L-27.71,23.37 L-25.46,22.17 L-23.32,20.66 L-21.31,19.06 L-19.48,17.60 L-17.88,16.48 L-16.36,15.56 L-14.87,14.65 L-13.50,13.82 L-12.30,13.09 L-11.30,12.48 L-10.54,12.03Z"/><path d="M-42.06,17.73 L-43.92,15.99 L-44.64,16.68 L-43.00,18.63Z"/><path d="M-42.59,17.53 L-45.11,17.89 L-45.02,18.88 L-42.48,18.83Z"/><path d="M-30.21,21.85 L-32.67,21.92 L-35.14,21.99 L-37.61,22.06 L-40.07,22.13 L-42.54,22.20 L-45.00,22.28 L-45.00,23.72 L-42.53,23.76 L-40.06,23.80 L-37.59,23.84 L-35.13,23.87 L-32.66,23.91 L-30.19,23.95Z"/><path d="M-44.22,22.41 L-46.58,21.46 L-47.01,22.37 L-44.78,23.58Z"/><path d="M-44.78,22.41 L-47.00,23.66 L-46.56,24.56 L-44.22,23.58Z"/><path d="M-33.92,23.50 L-34.57,24.81 L-35.23,26.12 L-35.88,27.43 L-36.53,28.73 L-37.18,30.04 L-37.84,31.35 L-36.56,32.05 L-35.82,30.79 L-35.07,29.53 L-34.32,28.27 L-33.57,27.02 L-32.83,25.76 L-32.08,24.50Z"/><path d="M-37.34,30.73 L-39.31,32.34 L-38.73,33.15 L-36.58,31.79Z"/><path d="M-37.61,31.23 L-37.59,33.77 L-36.59,33.82 L-36.31,31.30Z"/><path d="M-34.04,24.64 L-33.87,25.50 L-33.70,26.36 L-33.53,27.22 L-33.36,28.08 L-33.19,28.94 L-33.02,29.80 L-31.58,29.60 L-31.64,28.73 L-31.71,27.86 L-31.77,26.98 L-31.83,26.11 L-31.90,25.23 L-31.96,24.36Z"/><path d="M-32.99,29.00 L-33.62,31.47 L-32.67,31.77 L-31.75,29.40Z"/><path d="M-32.91,29.56 L-31.39,31.60 L-30.56,31.05 L-31.82,28.85Z"/></g><ellipse cx="1.4" cy="2.5" rx="14.2" ry="9.6" transform="rotate(20 1.4 2.5)" fill="#7a5bd3"/><ellipse cx="0" cy="0" rx="3.7" ry="2.8" transform="rotate(15)" fill="#55309f"/></g>
</defs>
<use href="#astro" transform="translate(261.4 324.3)"/>
<use href="#astro" transform="translate(350.7 324.1)"/>
<use href="#astro" transform="translate(446.6 323.6)"/>
<use href="#astro" transform="translate(320.8 417.1)"/>
<use href="#astro" transform="translate(434.3 417.1)"/>
<use href="#neuron" transform="translate(295 102)"/>
<use href="#neuron" transform="translate(389 40)"/>
<use href="#neuron" transform="translate(389 125)"/>
<use href="#neuron" transform="translate(485 76.5)"/>
<use href="#neuron" transform="translate(484 165)"/>
<circle cx="380" cy="81.5" r="50.5" fill="#e8282c" fill-opacity="0.3"/>
<rect x="1.5" y="106.8" width="179.5" height="38.3" rx="6" fill="#dae5f2"/>
<rect x="420.5" y="99.2" width="264" height="43.2" rx="7" fill="#9b70bd" fill-opacity="0.35"/>
<rect x="383" y="212.3" width="247" height="44.8" rx="7" fill="#a8e0c4"/>
<rect x="316" y="340.3" width="325.5" height="46.2" rx="7" fill="#d3e1f0" fill-opacity="0.82"/>
<g transform="translate(289 158.9) rotate(-23.4)"><ellipse rx="55.1" ry="8.5" fill="url(#eg)" stroke="#7391b3" stroke-width="0.8"/><ellipse cx="10.5" cy="-3.2" rx="27.4" ry="4.4" fill="#5393d2"/></g>
<ellipse cx="140" cy="172.5" rx="28" ry="16.3" fill="url(#cg)" stroke="#8499b3" stroke-width="0.9"/>
<ellipse cx="134" cy="178.8" rx="14.2" ry="7" fill="#5291d1"/>
<ellipse cx="112" cy="207" rx="28" ry="16.3" fill="url(#cg)" stroke="#8499b3" stroke-width="0.9"/>
<ellipse cx="106.9" cy="213.3" rx="14.2" ry="7" fill="#5291d1"/>
<ellipse cx="171" cy="204.5" rx="28" ry="16.3" fill="url(#cg)" stroke="#8499b3" stroke-width="0.9"/>
<ellipse cx="165.4" cy="210.7" rx="14.2" ry="7" fill="#5291d1"/>
<ellipse cx="100.9" cy="249.6" rx="28" ry="16.3" fill="url(#cg)" stroke="#8499b3" stroke-width="0.9"/>
<ellipse cx="95.4" cy="256" rx="14.2" ry="7" fill="#5291d1"/>
<ellipse cx="165.6" cy="241.3" rx="28" ry="16.3" fill="url(#cg)" stroke="#8499b3" stroke-width="0.9"/>
<ellipse cx="160" cy="247" rx="14.2" ry="7" fill="#5291d1"/>
<ellipse cx="144.8" cy="281.4" rx="28" ry="16.3" fill="url(#cg)" stroke="#8499b3" stroke-width="0.9"/>
<ellipse cx="139.3" cy="287.1" rx="14.2" ry="7" fill="#5291d1"/>
<circle cx="348" cy="191.4" r="8.9" fill="#0aa44e"/>
<circle cx="372.2" cy="207.3" r="8.9" fill="#0aa44e"/>
<circle cx="399.5" cy="203.3" r="8.9" fill="#0aa44e"/>
<circle cx="344.1" cy="220.7" r="8.9" fill="#0aa44e"/>
<circle cx="371.2" cy="237.1" r="8.9" fill="#0aa44e"/>
<circle cx="348.4" cy="253.1" r="8.9" fill="#0aa44e"/>
<circle cx="393.1" cy="256.3" r="8.9" fill="#0aa44e"/>
<path d="M194.1,182.9 C220,178 246,164 253.4,152.2 C257.9,143.2 263,126.6 271.7,121.6 C284.8,114.1 303,107.5 318,106.4" fill="none" stroke="#d41a20" stroke-width="2.2"/>
<path d="M316.8,102.9 L323.2,105.9 L317.5,109.1Z" fill="#d41a20"/>
<path d="M208,225 L319,225" fill="none" stroke="#d41a20" stroke-width="2.1"/>
<path d="M318.4,222.4 L323.8,225 L318.4,227.7Z" fill="#d41a20"/>
<path d="M194,257.2 C237,259 256,283 261.5,312 C267,340 292,356 318,357.6" fill="none" stroke="#d41a20" stroke-width="2.2"/>
<path d="M317.8,354.5 L323.6,357.9 L317.3,360.9Z" fill="#d41a20"/>
<g font-family="Liberation Sans, sans-serif" font-weight="bold" fill="#0d0d0d" stroke="#0d0d0d" stroke-width="0.35" style="will-change:transform">
<text x="46.7" y="122.2" font-size="14" textLength="88.5" lengthAdjust="spacingAndGlyphs">Transplanted</text>
<text x="8.9" y="141.4" font-size="14" textLength="164.4" lengthAdjust="spacingAndGlyphs">mesenchymal stem cells</text>
<text x="348.2" y="87.9" font-size="16.5" textLength="64.4" lengthAdjust="spacingAndGlyphs">Damage</text>
<text x="436.1" y="126.1" font-size="14.5" textLength="231.8" lengthAdjust="spacingAndGlyphs">Immigration to the foci of damage</text>
<text x="398.7" y="229.9" font-size="14" textLength="216.4" lengthAdjust="spacingAndGlyphs">Releasing paracrine neurotropic</text>
<text x="408.5" y="250.0" font-size="14" textLength="196.6" lengthAdjust="spacingAndGlyphs">factors to assist regeneration</text>
<text x="365.0" y="359.3" font-size="14" textLength="228.1" lengthAdjust="spacingAndGlyphs">Immunomodulation of astrocytes</text>
<text x="343.5" y="378.6" font-size="14" textLength="119.7" lengthAdjust="spacingAndGlyphs">Pro-inflammatory</text>
<text x="488.8" y="378.6" font-size="14" textLength="125.5" lengthAdjust="spacingAndGlyphs">Anti-inflammatory</text>
<path stroke="none" d="M469,371.8 L476.8,371.8 L473.4,367.2 L477.9,367.2 L483.8,373.2 L478,379.2 L473.6,379.2 L476.8,374.7 L469,374.7 Z"/>
</g>
</svg></body></html>
